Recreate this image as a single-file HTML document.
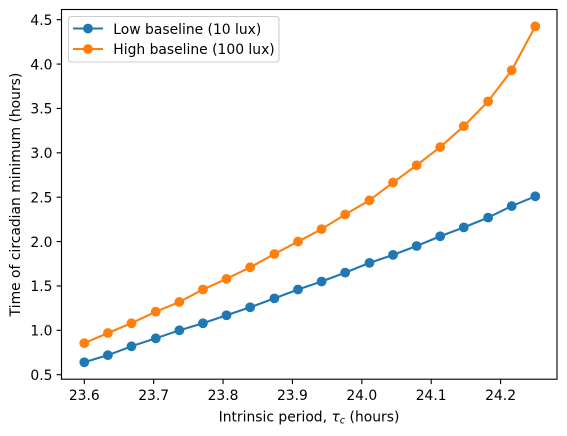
<!DOCTYPE html>
<html>
<head>
<meta charset="utf-8">
<style>
html,body{margin:0;padding:0;background:#fff;}
svg{display:block;}
text{font-family:"DejaVu Sans",sans-serif;font-size:13.89px;fill:#000;}
</style>
</head>
<body>
<svg id="chart" width="567" height="436" viewBox="0 0 567 436" xmlns="http://www.w3.org/2000/svg">
  <g id="ticks"></g>
  <g id="series"></g>
  <rect x="61.5" y="9.5" width="495.5" height="369.7" fill="none" stroke="#000" stroke-width="1.11"/>
  <g>
    <rect x="68.5" y="16.5" width="210.5" height="45.5" rx="2.8" fill="#fff" fill-opacity="0.8" stroke="#ccc" stroke-width="1.11"/>
    <g>
      <line x1="73" y1="28.5" x2="103" y2="28.5" stroke="#1f77b4" stroke-width="2.08"/>
      <circle cx="88" cy="28.5" r="4.9" fill="#1f77b4"/>
      <text x="113.3" y="33.8">Low baseline (10 lux)</text>
    </g>
    <g>
      <line x1="73" y1="49" x2="103" y2="49" stroke="#ff7f0e" stroke-width="2.08"/>
      <circle cx="88" cy="49" r="4.9" fill="#ff7f0e"/>
      <text x="113.3" y="54">High baseline (100 lux)</text>
    </g>
  </g>
  <text x="309" y="421.5" text-anchor="middle">Intrinsic period, <tspan font-style="italic">τ</tspan><tspan font-style="italic" font-size="9.7" dy="2">c</tspan><tspan dy="-2"> (hours)</tspan></text>
  <text transform="translate(20,194.5) rotate(-90)" text-anchor="middle">Time of circadian minimum (hours)</text>
</svg>
<script>
const periods = [23.6, 23.634, 23.668, 23.703, 23.737, 23.771, 23.805, 23.839, 23.874, 23.908, 23.942, 23.976, 24.011, 24.045, 24.079, 24.113, 24.147, 24.182, 24.216, 24.25];
const lowBaseline = [0.64, 0.72, 0.82, 0.91, 1.00, 1.08, 1.17, 1.26, 1.36, 1.46, 1.55, 1.65, 1.76, 1.85, 1.95, 2.06, 2.16, 2.27, 2.40, 2.51];
const highBaseline = [0.855, 0.97, 1.08, 1.21, 1.32, 1.46, 1.58, 1.71, 1.86, 2.00, 2.14, 2.305, 2.465, 2.665, 2.86, 3.065, 3.30, 3.58, 3.93, 4.425];
const xTickValues = [23.6, 23.7, 23.8, 23.9, 24.0, 24.1, 24.2];
const yTickValues = [0.5, 1.0, 1.5, 2.0, 2.5, 3.0, 3.5, 4.0, 4.5];

const NS = 'http://www.w3.org/2000/svg';
const xScale = v => 84.3 + (v - 23.6) * 693.8;
const yScale = v => 374.7 - (v - 0.5) * 88.75;
const ticksLayer = document.getElementById('ticks');
const seriesLayer = document.getElementById('series');

function make(tag, attrs, parent) {
  const el = document.createElementNS(NS, tag);
  for (const k in attrs) el.setAttribute(k, attrs[k]);
  parent.appendChild(el);
  return el;
}

xTickValues.forEach(v => {
  const x = xScale(v);
  const tick = make('line', {x1: x, x2: x, y1: 379.2, y2: 384.1, stroke: '#000', 'stroke-width': 1.11}, ticksLayer);
  
  
  const label = make('text', {x: x, y: 399.8, 'text-anchor': 'middle'}, ticksLayer);
  
  
  label.textContent = v.toFixed(1);
});

yTickValues.forEach(v => {
  const y = yScale(v);
  const tick = make('line', {x1: 56.6, x2: 61.5, y1: y, y2: y, stroke: '#000', 'stroke-width': 1.11}, ticksLayer);
  
  
  const label = make('text', {x: 52.5, y: y + 5.2, 'text-anchor': 'end'}, ticksLayer);
  
  
  label.textContent = v.toFixed(1);
});

function drawSeries(values, color) {
  const pts = values.map((v, i) => xScale(periods[i]).toFixed(2) + ',' + yScale(v).toFixed(2)).join(' ');
  const line = make('polyline', {points: pts, fill: 'none', stroke: color, 'stroke-width': 2.08, 'stroke-linejoin': 'round'}, seriesLayer);
  
  
  values.forEach((v, i) => {
    const dot = make('circle', {cx: xScale(periods[i]), cy: yScale(v), r: 4.9, fill: color}, seriesLayer);
    
    
  });
}

drawSeries(lowBaseline, '#1f77b4');
drawSeries(highBaseline, '#ff7f0e');
</script>
</body>
</html>
